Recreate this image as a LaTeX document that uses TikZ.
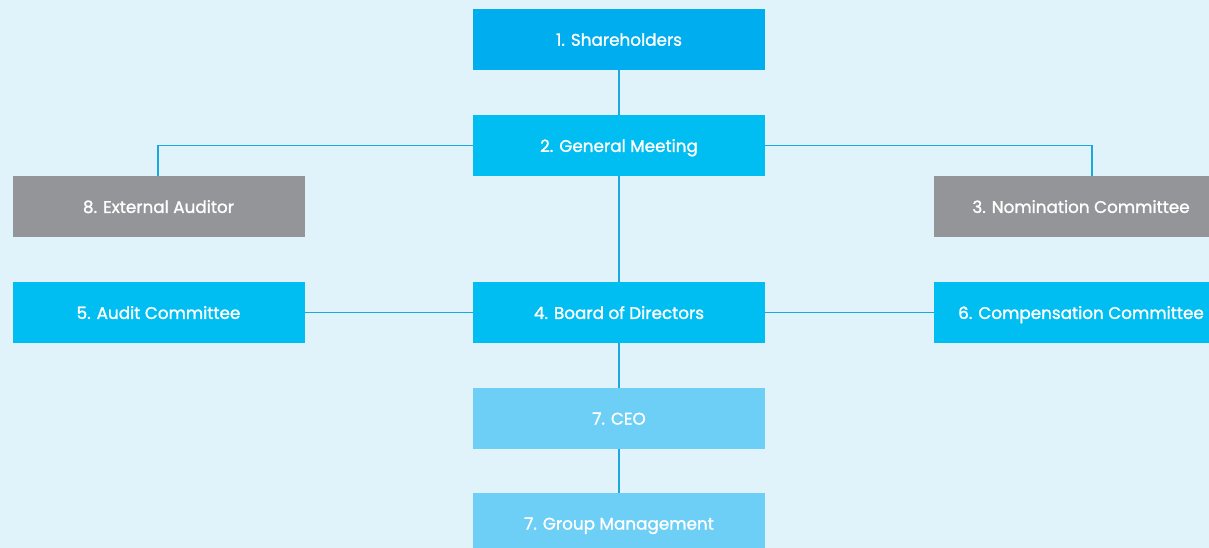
\documentclass[tikz,border=0pt]{standalone}
\usepackage{fontspec}
\newfontfamily\boxfont[FakeBold=1.4]{Poppins}
\definecolor{bgc}{HTML}{E0F3FB}
\definecolor{darkblue}{HTML}{00AEEF}
\definecolor{midblue}{HTML}{00BEF2}
\definecolor{lightblue}{HTML}{6DCFF6}
\definecolor{greyc}{HTML}{939598}
\definecolor{linec}{HTML}{1BA8E0}
\begin{document}
\begin{tikzpicture}[x=1pt,y=-1pt,
  box/.style={draw=none,minimum width=292pt,minimum height=61pt,inner sep=0pt,text=white,text depth=0pt,font=\boxfont\fontsize{16.8}{19}\selectfont},
  conn/.style={draw=linec,line width=1.5pt}]
\fill[bgc] (0,0) rectangle (1209,548);
\useasboundingbox (0,0) rectangle (1209,548);
\coordinate (gmL) at (158,145);
\coordinate (gmR) at (1092,145);
\node[box,fill=darkblue] (sh) at (619,39.5) {1. Shareholders};
\node[box,fill=midblue] (gm) at (619,145.5) {2. General Meeting};
\node[box,fill=greyc] (ea) at (158.5,206.5) {8. External Auditor};
\node[box,fill=greyc,minimum width=294pt] (nc) at (1081,206.5) {3. Nomination Committee};
\node[box,fill=midblue] (ac) at (158.5,312.5) {5. Audit Committee};
\node[box,fill=midblue] (bd) at (619,312.5) {4. Board of Directors};
\node[box,fill=midblue,minimum width=294pt] (cc) at (1081,312.5) {6. Compensation Committee};
\node[box,fill=lightblue] (ceo) at (619,418.5) {7. CEO};
\node[box,fill=lightblue] (gmt) at (619,523.5) {7. Group Management};
\draw[conn] (sh.south) -- (gm.north);
\draw[conn] (gm.west) -| (ea.north -| gmL);
\draw[conn] (gm.east) -| (nc.north -| gmR);
\draw[conn] (gm.south) -- (bd.north);
\draw[conn] (bd.west) -- (ac.east);
\draw[conn] (bd.east) -- (cc.west);
\draw[conn] (bd.south) -- (ceo.north);
\draw[conn] (ceo.south) -- (gmt.north);
\end{tikzpicture}
\end{document}
